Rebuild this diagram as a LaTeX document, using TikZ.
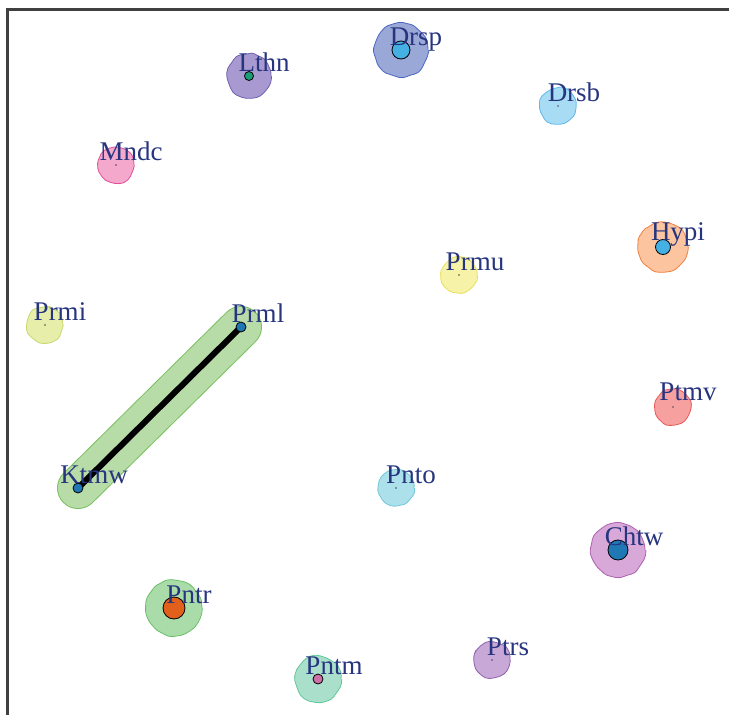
\documentclass[tikz,border=0pt]{standalone}
\usepackage{fontspec}
\setmainfont{Liberation Serif}
\usetikzlibrary{decorations.pathmorphing}
\definecolor{lbl}{HTML}{27357F}
\definecolor{hullB}{HTML}{78C060}\definecolor{hullF}{HTML}{B8DCA8}
\definecolor{drspF}{HTML}{9AA8D8}\definecolor{drspB}{HTML}{4A66C0}
\definecolor{lthnF}{HTML}{A89AD0}\definecolor{lthnB}{HTML}{7060B0}
\definecolor{drsbF}{HTML}{A8DCF5}\definecolor{drsbB}{HTML}{60B8E8}
\definecolor{mndcF}{HTML}{F4A8CC}\definecolor{mndcB}{HTML}{E05098}
\definecolor{hypiF}{HTML}{FDC4A0}\definecolor{hypiB}{HTML}{F08040}
\definecolor{prmuF}{HTML}{F6F2A8}\definecolor{prmuB}{HTML}{E8E060}
\definecolor{prmiF}{HTML}{E6EEAA}\definecolor{prmiB}{HTML}{C8D870}
\definecolor{ptmvF}{HTML}{F6A0A0}\definecolor{ptmvB}{HTML}{E85858}
\definecolor{pntoF}{HTML}{ACE0EA}\definecolor{pntoB}{HTML}{70C8D8}
\definecolor{chtwF}{HTML}{D8A8D8}\definecolor{chtwB}{HTML}{B060B0}
\definecolor{pntrF}{HTML}{AADCAA}\definecolor{pntrB}{HTML}{68C068}
\definecolor{ptrsF}{HTML}{C8A8D6}\definecolor{ptrsB}{HTML}{9060B0}
\definecolor{pntmF}{HTML}{AADFCC}\definecolor{pntmB}{HTML}{60C898}
\definecolor{ltblue}{HTML}{44B0E4}
\definecolor{dkblue}{HTML}{1F78B4}
\definecolor{orng}{HTML}{E0601C}
\definecolor{teal}{HTML}{1B9E77}
\definecolor{pinkd}{HTML}{D070A8}
\tikzset{
  blob/.style={circle, inner sep=0pt, minimum size=#1, line width=0.8pt,
    decorate, decoration={random steps, segment length=5pt, amplitude=0.9pt}, rounded corners=2pt},
  cdot/.style={circle, inner sep=0pt, minimum size=#1, draw=black, line width=0.8pt},
  tiny/.style={circle, inner sep=0pt, minimum size=1.6pt, fill=black!70},
  lab/.style={anchor=base, text=lbl, font=\fontsize{27}{27}\selectfont, inner sep=0pt},
  frame/.style={draw=black!75, line width=2.2pt},
  edgeline/.style={line width=6pt, draw=black}
}
\begin{document}
\begin{tikzpicture}[x=1pt, y=-1pt]
\pgfmathsetseed{7}
\useasboundingbox (0,0) rectangle (729,715);
\draw[frame] (7.5,715) -- (7.5,9.5) -- (729,9.5);
% hull around Ktmw-Prml
\coordinate (ktmwc) at (78,488);
\coordinate (prmlc) at (241,327);
\draw[line width=42pt, line cap=round, draw=hullB] (ktmwc) -- (prmlc);
\draw[line width=40pt, line cap=round, draw=hullF] (ktmwc) -- (prmlc);
% blobs
\node[blob=54pt, fill=drspF, draw=drspB] (drspb) at (401,50) {};
\node[blob=44pt, fill=lthnF, draw=lthnB] (lthnb) at (249,76) {};
\node[blob=36pt, fill=drsbF, draw=drsbB] (drsbb) at (558,106) {};
\node[blob=36pt, fill=mndcF, draw=mndcB] (mndcb) at (116,165) {};
\node[blob=50pt, fill=hypiF, draw=hypiB] (hypib) at (663,247) {};
\node[blob=36pt, fill=prmuF, draw=prmuB] (prmub) at (459,275) {};
\node[blob=36pt, fill=prmiF, draw=prmiB] (prmib) at (45,325) {};
\node[blob=36pt, fill=ptmvF, draw=ptmvB] (ptmvb) at (673,407) {};
\node[blob=36pt, fill=pntoF, draw=pntoB] (pntob) at (396,488) {};
\node[blob=54pt, fill=chtwF, draw=chtwB] (chtwb) at (618,550) {};
\node[blob=56pt, fill=pntrF, draw=pntrB] (pntrb) at (174,608) {};
\node[blob=36pt, fill=ptrsF, draw=ptrsB] (ptrsb) at (492,660) {};
\node[blob=46pt, fill=pntmF, draw=pntmB] (pntmb) at (318,679) {};
% edge
\draw[edgeline] (ktmwc) -- (prmlc);
% centre dots
\node[cdot=18pt, fill=ltblue] (drsp) at (401,50) {};
\node[cdot=9pt, fill=teal] (lthn) at (249,76) {};
\node[tiny] (drsb) at (558,106) {};
\node[tiny] (mndc) at (116,165) {};
\node[cdot=15pt, fill=ltblue] (hypi) at (663,247) {};
\node[tiny] (prmu) at (459,275) {};
\node[tiny] (prmi) at (45,325) {};
\node[cdot=10pt, fill=dkblue] (prml) at (prmlc) {};
\node[cdot=10pt, fill=dkblue] (ktmw) at (ktmwc) {};
\node[tiny] (ptmv) at (673,407) {};
\node[tiny] (pnto) at (396,488) {};
\node[cdot=20pt, fill=dkblue] (chtw) at (618,550) {};
\node[cdot=22pt, fill=orng] (pntr) at (174,608) {};
\node[tiny] (ptrs) at (492,660) {};
\node[cdot=10pt, fill=pinkd] (pntm) at (318,679) {};
% labels
\node[lab] (ldrsp) at (416,45) {Drsp};
\node[lab] (llthn) at (264,71) {Lthn};
\node[lab] (ldrsb) at (574,101) {Drsb};
\node[lab] (lmndc) at (131,160) {Mndc};
\node[lab] (lhypi) at (678,240) {Hypi};
\node[lab] (lprmu) at (475,270) {Prmu};
\node[lab] (lprmi) at (60,320) {Prmi};
\node[lab] (lprml) at (258,322) {Prml};
\node[lab] (lktmw) at (94,483) {Ktmw};
\node[lab] (lptmv) at (688,400) {Ptmv};
\node[lab] (lpnto) at (411,483) {Pnto};
\node[lab] (lchtw) at (634,545) {Chtw};
\node[lab] (lpntr) at (189,603) {Pntr};
\node[lab] (lptrs) at (508,655) {Ptrs};
\node[lab] (lpntm) at (334,674) {Pntm};
\end{tikzpicture}
\end{document}
